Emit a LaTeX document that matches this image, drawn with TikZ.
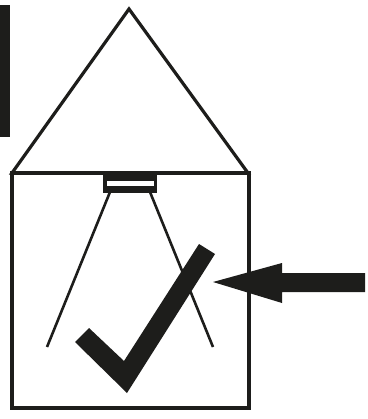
\documentclass[tikz,border=0pt]{standalone}
\usepackage{tikz}

\definecolor{inkblack}{HTML}{1D1D1B}

\begin{document}
\begin{tikzpicture}[
    x=1pt, y=-1pt,
    outline/.style={draw=inkblack, line width=3.2pt, line join=miter},
    beam/.style={draw=inkblack, line width=2.6pt},
    solid/.style={fill=inkblack, draw=none}
]
    \useasboundingbox (0,0) rectangle (367,419);

    % Bar
    \fill[solid] (-1,5) rectangle (10,137);

    % House
    \draw[outline] (12,173) -- (129,9) -- (248,173) -- cycle;
    \draw[outline] (12,173) rectangle (249,408);

    % Lamp
    \draw[beam] (110,192) -- (47,347);
    \draw[beam] (150,192) -- (213,347);
    \fill[solid] (103,175) rectangle (157,193);
    \fill[white] (107,181) rectangle (154,186);

    % Check mark
    \fill[solid] (199,244) -- (215,254) -- (127,393) -- (75,342) -- (89,328) -- (124,361) -- cycle;

    % Arrow
    \fill[solid] (213,282) -- (282,263) -- (282,273) -- (365,273) -- (365,292) -- (282,292) -- (282,303) -- cycle;

\end{tikzpicture}
\end{document}
